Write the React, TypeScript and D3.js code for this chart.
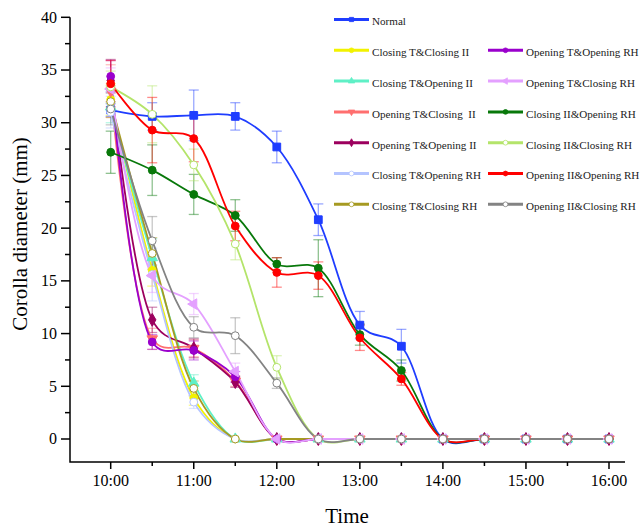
import React, { useEffect, useRef } from "react";
import * as d3 from "d3";

// time points in hours (10:00 ... 16:00, every half hour)
const times = [10, 10.5, 11, 11.5, 12, 12.5, 13, 13.5, 14, 14.5, 15, 15.5, 16];
const hourTicks = [10, 11, 12, 13, 14, 15, 16];
const hourLabels = ["10:00", "11:00", "12:00", "13:00", "14:00", "15:00", "16:00"];
const yTicks = [0, 5, 10, 15, 20, 25, 30, 35, 40];

const normal = [31.2, 30.6, 30.7, 30.6, 27.7, 20.8, 10.8, 8.8, 0, 0, 0, 0, 0];
const normalErr = [0.6, 1.3, 2.4, 1.3, 1.5, 1.5, 1.3, 1.6, 0, 0, 0, 0, 0];

const ctCII = [32.2, 16.0, 3.9, 0, 0, 0, 0, 0, 0, 0, 0, 0, 0];
const ctCIIErr = [1.5, 1.5, 0.7, 0, 0, 0, 0, 0, 0, 0, 0, 0, 0];

const ctOII = [31.5, 17.2, 5.3, 0, 0, 0, 0, 0, 0, 0, 0, 0, 0];
const ctOIIErr = [1.5, 1.8, 0.8, 0, 0, 0, 0, 0, 0, 0, 0, 0, 0];

const otCII = [33.0, 9.5, 8.6, 5.5, 0, 0, 0, 0, 0, 0, 0, 0, 0];
const otCIIErr = [2.5, 1.0, 0.8, 0.5, 0, 0, 0, 0, 0, 0, 0, 0, 0];

const otOII = [34.0, 11.3, 8.6, 5.4, 0, 0, 0, 0, 0, 0, 0, 0, 0];
const otOIIErr = [2.0, 1.2, 0.9, 0.5, 0, 0, 0, 0, 0, 0, 0, 0, 0];

const ctORH = [31.0, 15.6, 3.5, 0, 0, 0, 0, 0, 0, 0, 0, 0, 0];
const ctORHErr = [1.5, 2.5, 0.6, 0, 0, 0, 0, 0, 0, 0, 0, 0, 0];

const ctCRH = [32.0, 17.6, 4.8, 0, 0, 0, 0, 0, 0, 0, 0, 0, 0];
const ctCRHErr = [1.5, 1.5, 0.7, 0, 0, 0, 0, 0, 0, 0, 0, 0, 0];

const otORH = [34.4, 9.2, 8.4, 5.9, 0, 0, 0, 0, 0, 0, 0, 0, 0];
const otORHErr = [1.5, 0.7, 0.9, 0.5, 0, 0, 0, 0, 0, 0, 0, 0, 0];

const otCRH = [33.2, 15.5, 12.8, 6.4, 0, 0, 0, 0, 0, 0, 0, 0, 0];
const otCRHErr = [2.0, 1.6, 1.0, 0.8, 0, 0, 0, 0, 0, 0, 0, 0, 0];

const cIIORH = [27.2, 25.5, 23.2, 21.2, 16.6, 16.2, 9.9, 6.5, 0, 0, 0, 0, 0];
const cIIORHErr = [2.0, 2.4, 1.9, 1.5, 0.6, 2.7, 1.0, 1.0, 0, 0, 0, 0, 0];

const cIICRH = [33.4, 30.8, 26.0, 18.5, 6.8, 0, 0, 0, 0, 0, 0, 0, 0];
const cIICRHErr = [1.5, 2.7, 1.5, 1.5, 1.1, 0, 0, 0, 0, 0, 0, 0, 0];

const oIIORH = [33.7, 29.3, 28.5, 20.2, 15.8, 15.5, 9.6, 5.7, 0, 0, 0, 0, 0];
const oIIORHErr = [2.2, 3.1, 2.2, 1.4, 1.4, 1.3, 1.2, 0.6, 0, 0, 0, 0, 0];

const oIICRH = [31.3, 18.8, 10.6, 9.8, 5.3, 0, 0, 0, 0, 0, 0, 0, 0];
const oIICRHErr = [1.5, 2.3, 1.0, 1.7, 0.5, 0, 0, 0, 0, 0, 0, 0, 0];

const series = [
  { name: "Normal", values: normal, err: normalErr, color: "#1f3dff", shape: "square", fill: true },
  { name: "Closing T&Closing II", values: ctCII, err: ctCIIErr, color: "#f2f200", shape: "circle", fill: true },
  { name: "Closing T&Opening II", values: ctOII, err: ctOIIErr, color: "#5ff0c6", shape: "triUp", fill: true },
  { name: "Opening T&Closing  II", values: otCII, err: otCIIErr, color: "#ff6f6f", shape: "triDown", fill: true },
  { name: "Opening T&Opening II", values: otOII, err: otOIIErr, color: "#9c005e", shape: "diamond", fill: true },
  { name: "Closing T&Opening RH", values: ctORH, err: ctORHErr, color: "#b4c4ff", shape: "circle", fill: false },
  { name: "Closing T&Closing RH", values: ctCRH, err: ctCRHErr, color: "#a69a22", shape: "circle", fill: false },
  { name: "Opening T&Opening RH", values: otORH, err: otORHErr, color: "#9a00cc", shape: "circle", fill: true },
  { name: "Opening T&Closing RH", values: otCRH, err: otCRHErr, color: "#e4a0ff", shape: "triLeft", fill: true },
  { name: "Closing II&Opening RH", values: cIIORH, err: cIIORHErr, color: "#08780a", shape: "circle", fill: true },
  { name: "Closing II&Closing RH", values: cIICRH, err: cIICRHErr, color: "#b4e46a", shape: "circle", fill: false },
  { name: "Opening II&Opening RH", values: oIIORH, err: oIIORHErr, color: "#ff0000", shape: "circle", fill: true },
  { name: "Opening II&Closing RH", values: oIICRH, err: oIICRHErr, color: "#838383", shape: "circle", fill: false },
];

const symbolFor = (shape, size) => {
  const t = {
    square: d3.symbolSquare,
    circle: d3.symbolCircle,
    diamond: d3.symbolDiamond,
    triUp: d3.symbolTriangle,
    triDown: d3.symbolTriangle,
    triLeft: d3.symbolTriangle,
  }[shape];
  return d3.symbol().type(t).size(size)();
};
const rotFor = (shape) => (shape === "triDown" ? 180 : shape === "triLeft" ? -90 : 0);

const font = "'Liberation Serif', 'Times New Roman', serif";

function drawChart(node) {
  const svg = d3.select(node);
  svg.selectAll("*").remove();

  const x = d3.scaleLinear().domain([10, 16]).range([110.7, 609]);
  const y = d3.scaleLinear().domain([0, 40]).range([439, 17.3]);
  const axisLeftX = 70;
  const axisBottomY = 462;

  // error bars first, then lines, then markers
  const g = svg.append("g");

  series.forEach((s) => {
    const eb = g.append("g").attr("stroke", s.color).attr("stroke-opacity", 0.45).attr("stroke-width", 1.3);
    s.values.forEach((v, i) => {
      const e = s.err[i];
      if (!e) return;
      const cx = x(times[i]);
      eb.append("line").attr("x1", cx).attr("x2", cx).attr("y1", y(v - e)).attr("y2", y(v + e));
      [v - e, v + e].forEach((c) => {
        eb.append("line").attr("x1", cx - 5).attr("x2", cx + 5).attr("y1", y(c)).attr("y2", y(c));
      });
    });
  });

  const line = d3
    .line()
    .x((d, i) => x(times[i]))
    .y((d) => y(d))
    .curve(d3.curveCatmullRom.alpha(0.35));

  series.forEach((s) => {
    g.append("path")
      .datum(s.values)
      .attr("fill", "none")
      .attr("stroke", s.color)
      .attr("stroke-width", 1.8)
      .attr("d", line);
  });

  series.forEach((s) => {
    const size = s.shape === "square" ? 60 : 48;
    g.append("g")
      .selectAll("path")
      .data(s.values)
      .enter()
      .append("path")
      .attr("d", symbolFor(s.shape, size))
      .attr("transform", (d, i) => `translate(${x(times[i])},${y(d)}) rotate(${rotFor(s.shape)})`)
      .attr("fill", s.fill ? s.color : "#ffffff")
      .attr("stroke", s.color)
      .attr("stroke-width", 1);
  });

  // axes
  const ax = svg.append("g").attr("stroke", "#000").attr("stroke-width", 1.5).attr("fill", "none");
  ax.append("path").attr("d", `M${axisLeftX},${y(40)}V${axisBottomY}H625`);

  d3.range(0, 40.1, 2.5).forEach((v) => {
    const major = v % 5 === 0;
    ax.append("line")
      .attr("x1", axisLeftX - (major ? 9 : 5))
      .attr("x2", axisLeftX)
      .attr("y1", y(v))
      .attr("y2", y(v));
  });
  d3.range(10, 16.1, 0.5).forEach((h) => {
    const major = h % 1 === 0;
    ax.append("line")
      .attr("x1", x(h))
      .attr("x2", x(h))
      .attr("y1", axisBottomY)
      .attr("y2", axisBottomY + (major ? 7 : 4));
  });

  svg.append("g")
    .selectAll("text")
    .data(yTicks)
    .enter()
    .append("text")
    .attr("x", 57)
    .attr("y", (d) => y(d))
    .attr("dy", "0.34em")
    .attr("text-anchor", "end")
    .attr("font-family", font)
    .attr("font-size", 16)
    .text((d) => d);

  svg.append("g")
    .selectAll("text")
    .data(hourTicks)
    .enter()
    .append("text")
    .attr("x", (d) => x(d))
    .attr("y", 486)
    .attr("text-anchor", "middle")
    .attr("font-family", font)
    .attr("font-size", 16)
    .text((d, i) => hourLabels[i]);

  svg.append("text")
    .attr("x", 347)
    .attr("y", 523)
    .attr("text-anchor", "middle")
    .attr("font-family", font)
    .attr("font-size", 21)
    .text("Time");

  svg.append("text")
    .attr("transform", "translate(27,234) rotate(-90)")
    .attr("text-anchor", "middle")
    .attr("font-family", font)
    .attr("font-size", 21)
    .text("Corolla diameter (mm)");

  // legend: Normal alone on first row, then two columns of six
  const legend = svg.append("g");
  series.forEach((s, i) => {
    let col = 0;
    let row = 0;
    if (i > 0) {
      col = i <= 6 ? 0 : 1;
      row = i <= 6 ? i : i - 6;
    }
    const lx = col === 0 ? 334 : 488;
    const ly = 19.5 + row * 30.8;
    const item = legend.append("g").attr("transform", `translate(${lx},${ly})`);
    item.append("line").attr("x1", 0).attr("x2", 35).attr("y1", 0).attr("y2", 0)
      .attr("stroke", s.color).attr("stroke-width", 3);
    item.append("path")
      .attr("d", symbolFor(s.shape, 18))
      .attr("transform", `translate(17.5,0) rotate(${rotFor(s.shape)})`)
      .attr("fill", s.fill ? s.color : "#ffffff")
      .attr("stroke", s.color)
      .attr("stroke-width", 0.8);
    item.append("text")
      .attr("x", 38)
      .attr("y", 2)
      .attr("dy", "0.35em")
      .attr("font-family", font)
      .attr("font-size", 11.1)
      .attr("fill", "#222")
      .attr("xml:space", "preserve")
      .style("white-space", "pre")
      .text(s.name);
  });
}

export default function App() {
  const ref = useRef(null);

  useEffect(() => {
    drawChart(ref.current);
  }, []);

  return (
    <svg
      ref={ref}
      width={642}
      height={529}
      style={{ position: "absolute", left: 0, top: 0, background: "#fff", display: "block" }}
    />
  );
}
